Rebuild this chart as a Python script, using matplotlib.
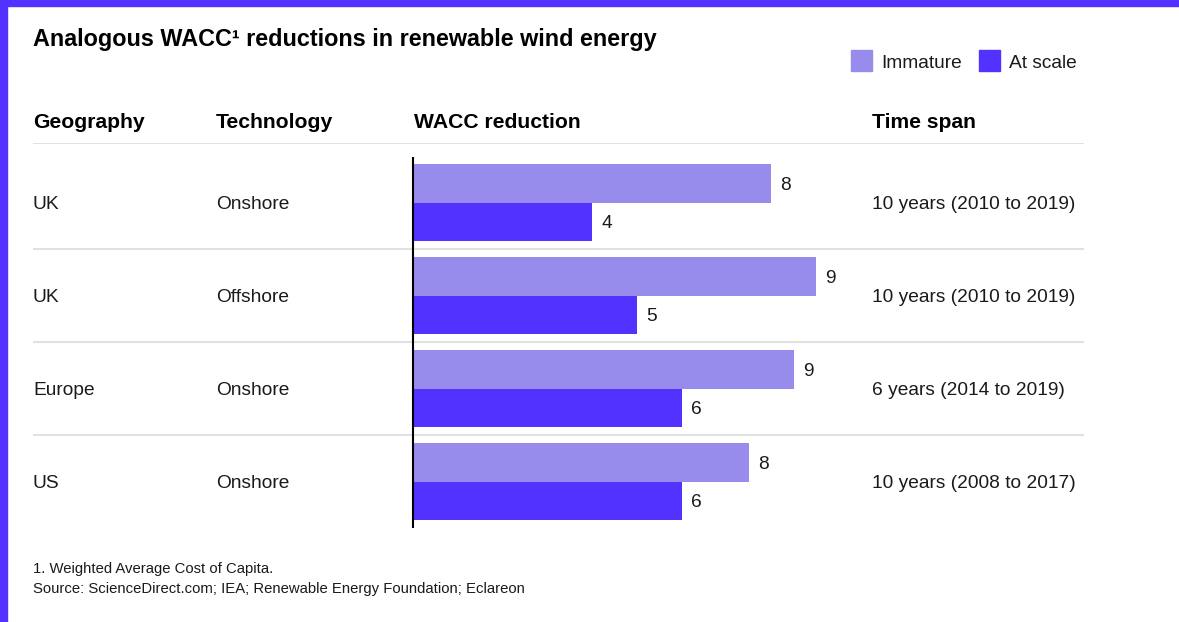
import matplotlib.pyplot as plt
import matplotlib.transforms as mtransforms
from matplotlib.patches import Rectangle

# data
geography = ['UK', 'UK', 'Europe', 'US']
technology = ['Onshore', 'Offshore', 'Onshore', 'Onshore']
immature = [8.0, 9.0, 8.5, 7.5]
at_scale = [4.0, 5.0, 6.0, 6.0]
immature_labels = ['8', '9', '9', '8']
at_scale_labels = ['4', '5', '6', '6']
time_span = ['10 years (2010 to 2019)', '10 years (2010 to 2019)',
             '6 years (2014 to 2019)', '10 years (2008 to 2017)']

c_immature = '#978bec'
c_scale = '#5232ff'
c_line = '#dde3e3'
c_text = '#1a1a1a'

plt.rcParams['font.family'] = ['Liberation Sans', 'DejaVu Sans']

W, H = 1179, 622
fig = plt.figure(figsize=(W / 100, H / 100), dpi=100)

def fx(px):
    return px / W

def fy(py):
    return 1 - py / H

VA = 'center_baseline'

# purple frame (top and left)
fig.patches.append(Rectangle((0, fy(6)), 1, 6 / H, transform=fig.transFigure,
                             color=c_scale, zorder=0))
fig.patches.append(Rectangle((0, 0), 7 / W, 1, transform=fig.transFigure,
                             color=c_scale, zorder=0))

# bar axes: spans x 33..1084 px, y 143..530 px
ax = fig.add_axes([fx(33), fy(530), fx(1084) - fx(33), (530 - 143) / H])
px_per_unit = 44.8
ax.set_xlim(-(413 - 33) / px_per_unit, (1084 - 413) / px_per_unit)
row_px = 93
ax.set_ylim((530 - 202.5) / row_px, -(202.5 - 143) / row_px)
ax.axis('off')

n = len(geography)
ys = list(range(n))
bh = 38.5 / row_px
ax.barh([y - bh / 2 for y in ys], immature, height=bh, color=c_immature, zorder=2)
ax.barh([y + bh / 2 for y in ys], at_scale, height=bh, color=c_scale, zorder=2)

for y, v, lab in zip(ys, immature, immature_labels):
    ax.annotate(lab, (v, y - bh / 2), xytext=(9, 0), textcoords='offset pixels',
                va=VA, ha='left', fontsize=13.8, color=c_text)
for y, v, lab in zip(ys, at_scale, at_scale_labels):
    ax.annotate(lab, (v, y + bh / 2), xytext=(9, 0), textcoords='offset pixels',
                va=VA, ha='left', fontsize=13.8, color=c_text)

# separators
ax.axhline(ax.get_ylim()[1], color=c_line, lw=1.5, zorder=1)
for y in ys[:-1]:
    ax.axhline(y + 0.5, color=c_line, lw=1.5, zorder=1)
ax.vlines(0, -0.49, n - 0.5, color='black', lw=1.5, zorder=3)

# row text
tr = mtransforms.blended_transform_factory(fig.transFigure, ax.transData)
for y, g, t, s in zip(ys, geography, technology, time_span):
    ax.text(fx(33), y, g, transform=tr, va=VA, fontsize=13.8, color=c_text)
    ax.text(fx(216), y, t, transform=tr, va=VA, fontsize=13.8, color=c_text)
    ax.text(fx(872), y, s, transform=tr, va=VA, fontsize=13.8, color=c_text)

# headers
for x, h in zip([33, 216, 414, 872], ['Geography', 'Technology', 'WACC reduction', 'Time span']):
    fig.text(fx(x), fy(121), h, fontsize=15.2, fontweight='bold', va=VA, color='black')

# title
fig.text(fx(33), fy(37), 'Analogous WACC\u00b9 reductions in renewable wind energy',
         fontsize=16.8, fontweight='bold', va=VA, color='black')

# legend
for x0, col, lab in [(851, c_immature, 'Immature'), (979, c_scale, 'At scale')]:
    fig.patches.append(Rectangle((fx(x0), fy(71)), 21 / W, 21 / H,
                                 transform=fig.transFigure, color=col))
    fig.text(fx(x0 + 30), fy(62), lab, fontsize=13.8, va=VA, color=c_text)

# footnotes
fig.text(fx(33), fy(568), '1. Weighted Average Cost of Capita.', fontsize=10.7,
         va=VA, color=c_text)
fig.text(fx(33), fy(587), 'Source: ScienceDirect.com; IEA; Renewable Energy Foundation; Eclareon',
         fontsize=10.7, va=VA, color=c_text)

fig.savefig('out.png', dpi=100)
